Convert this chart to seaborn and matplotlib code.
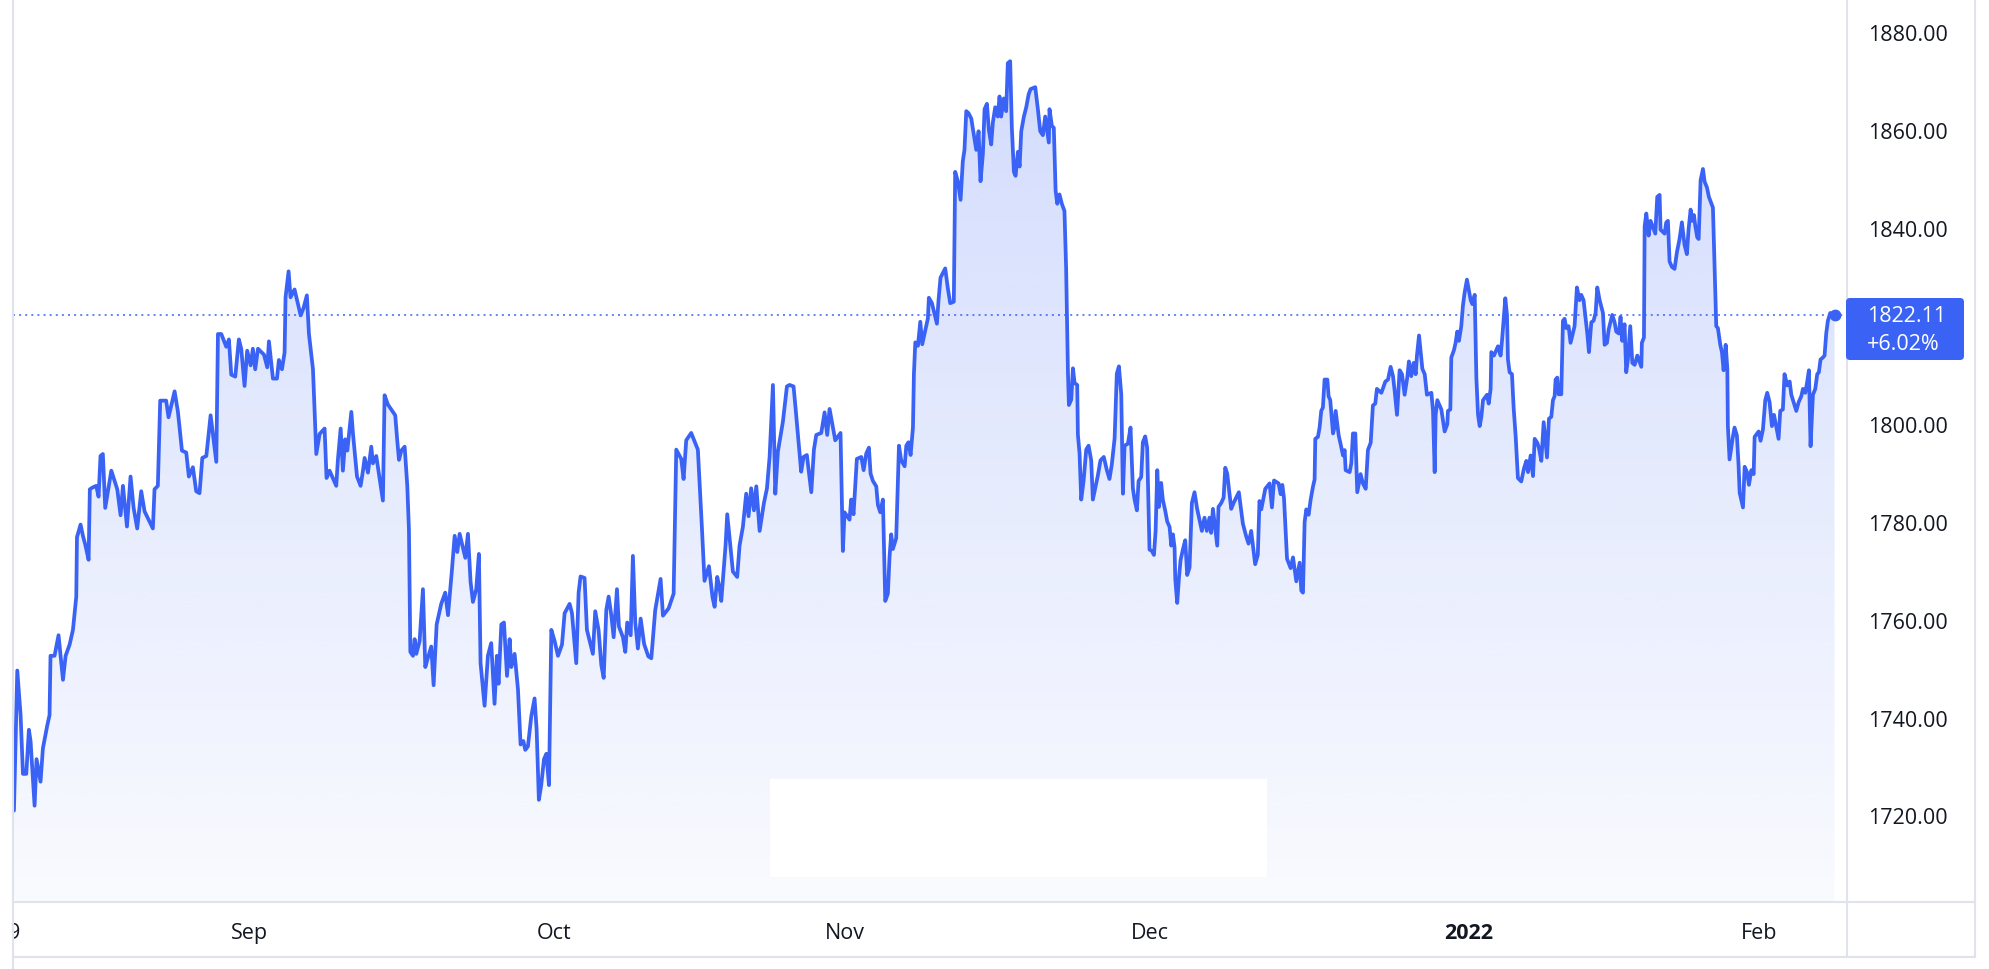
import numpy as np
import pandas as pd
import matplotlib
matplotlib.use("Agg")
import matplotlib.pyplot as plt
import seaborn as sns
from matplotlib.patches import Rectangle, FancyBboxPatch, PathPatch
from matplotlib.lines import Line2D
from matplotlib.transforms import IdentityTransform

# ---------------- data ----------------
# x: trading days since 2021-08-09 (weekends collapsed), y: gold price (USD)
trading_day = [
    0.00, 0.24, 0.48, 0.65, 0.89, 1.08, 1.20, 1.49, 1.63, 1.73, 1.92, 2.09, 2.40, 2.57, 2.64, 2.93,
    3.22, 3.54, 3.73, 4.02, 4.26, 4.50, 4.55, 4.81, 4.98, 5.15, 5.39, 5.48, 5.70, 5.94, 6.11, 6.25,
    6.42, 6.59, 7.03, 7.46, 7.70, 7.87, 8.16, 8.42, 8.64, 8.90, 9.19, 9.43, 10.03, 10.15, 10.39, 10.56,
    10.99, 11.16, 11.60, 11.84, 12.13, 12.44, 12.63, 12.92, 13.16, 13.40, 13.60, 13.89, 14.20, 14.61, 14.73, 14.97,
    15.33, 15.52, 15.69, 15.98, 16.24, 16.41, 16.65, 16.84, 17.09, 17.25, 17.42, 17.62, 18.05, 18.29, 18.41, 18.70,
    18.99, 19.13, 19.35, 19.54, 19.61, 19.83, 19.97, 20.26, 20.45, 20.70, 20.91, 21.15, 21.30, 21.59, 21.83, 22.07,
    22.43, 22.57, 22.79, 23.27, 23.39, 23.59, 23.75, 23.92, 24.07, 24.36, 24.48, 24.77, 25.03, 25.20, 25.32, 25.56,
    25.80, 25.92, 26.16, 26.64, 26.76, 27.00, 27.53, 27.68, 27.80, 27.97, 28.21, 28.40, 28.52, 28.62, 28.81, 28.93,
    29.05, 29.29, 29.53, 29.70, 29.89, 30.13, 30.30, 30.52, 30.85, 31.14, 31.34, 31.62, 31.82, 32.01, 32.18, 32.59,
    32.78, 32.97, 33.14, 33.38, 33.57, 33.69, 33.98, 34.22, 34.46, 34.70, 34.87, 34.99, 35.19, 35.38, 35.60, 35.79,
    35.91, 36.15, 36.39, 36.58, 36.78, 36.92, 37.11, 37.35, 37.59, 37.74, 37.90, 38.07, 38.27, 38.44, 38.63, 38.80,
    39.04, 39.28, 39.57, 39.76, 40.12, 40.29, 40.60, 40.77, 40.91, 41.20, 41.37, 41.80, 41.97, 42.21, 42.41, 42.58,
    42.77, 42.94, 43.13, 43.30, 43.54, 43.68, 43.97, 44.14, 44.28, 44.53, 44.69, 44.86, 45.05, 45.25, 45.50, 45.80,
    46.02, 46.30, 46.69, 46.86, 47.27, 47.63, 47.82, 48.18, 48.35, 48.54, 48.90, 49.38, 49.67, 49.86, 50.18, 50.44,
    50.59, 50.78, 50.95, 51.07, 51.38, 51.50, 51.91, 52.22, 52.39, 52.63, 52.87, 53.04, 53.23, 53.43, 53.60, 53.84,
    54.15, 54.37, 54.56, 54.80, 54.97, 55.16, 55.52, 55.81, 56.00, 56.29, 56.44, 56.84, 57.01, 57.25, 57.57, 57.76,
    57.93, 58.29, 58.53, 58.72, 58.89, 59.13, 59.30, 59.68, 59.85, 59.97, 60.33, 60.45, 60.62, 60.86, 61.18, 61.35,
    61.54, 61.73, 61.85, 62.02, 62.26, 62.38, 62.55, 62.74, 62.91, 63.10, 63.22, 63.34, 63.46, 63.70, 63.90, 64.06,
    64.31, 64.43, 64.59, 64.74, 64.91, 64.98, 65.08, 65.27, 65.44, 65.58, 65.99, 66.06, 66.28, 66.64, 66.76, 66.90,
    67.24, 67.43, 67.60, 67.86, 67.96, 68.15, 68.35, 68.51, 68.63, 68.76, 68.92, 69.12, 69.48, 69.65, 69.79, 69.96,
    70.08, 70.25, 70.39, 70.56, 70.68, 70.85, 71.04, 71.16, 71.28, 71.47, 71.64, 71.76, 71.93, 72.05, 72.20, 72.32,
    72.49, 72.61, 72.73, 72.92, 73.09, 73.26, 73.40, 73.74, 73.93, 74.10, 74.29, 74.46, 74.72, 74.77, 74.94, 75.08,
    75.21, 75.33, 75.49, 75.66, 75.85, 75.97, 76.10, 76.17, 76.34, 76.46, 76.58, 76.77, 76.82, 76.94, 77.06, 77.23,
    77.42, 77.59, 77.78, 77.90, 78.26, 78.45, 78.69, 78.91, 79.10, 79.27, 79.47, 79.63, 79.78, 79.95, 80.07, 80.19,
    80.43, 80.62, 80.79, 80.91, 81.08, 81.20, 81.39, 81.51, 81.68, 81.82, 81.99, 82.16, 82.31, 82.43, 82.55, 82.67,
    82.83, 82.95, 83.12, 83.27, 83.44, 83.56, 83.68, 83.80, 83.85, 83.99, 84.11, 84.23, 84.40, 84.57, 84.71, 84.88,
    85.05, 85.24, 85.43, 85.77, 85.96, 86.13, 86.32, 86.44, 86.57, 86.88, 86.97, 87.17, 87.34, 87.46, 87.60, 87.89,
    88.06, 88.44, 88.73, 88.97, 89.14, 89.33, 89.62, 89.81, 89.93, 90.06, 90.35, 90.66, 90.83, 90.98, 91.31, 91.46,
    91.58, 91.70, 91.92, 92.18, 92.35, 92.59, 92.83, 92.95, 93.07, 93.19, 93.31, 93.48, 93.62, 93.79, 93.91, 93.96,
    94.15, 94.27, 94.39, 94.51, 94.63, 94.83, 94.92, 95.04, 95.24, 95.31, 95.43, 95.65, 95.79, 95.96, 96.08, 96.15,
    96.44, 96.56, 96.68, 96.85, 96.99, 97.23, 97.40, 97.60, 97.76, 97.96, 98.12, 98.29, 98.41, 98.73, 99.02, 99.21,
    99.40, 99.57, 99.69, 99.86, 100.05, 100.22, 100.41, 100.60, 100.72, 100.89, 101.06, 101.21, 101.30, 101.45, 101.69, 101.86,
    102.02, 102.34, 102.46, 102.58, 102.65, 102.77, 103.06, 103.30, 103.49, 103.54, 103.71, 103.78, 103.97, 104.09, 104.21, 104.33,
    104.50, 104.62, 104.74, 104.91, 105.18, 105.30, 105.47, 105.59, 105.71, 105.83, 105.95, 106.07, 106.36, 106.48, 106.62, 106.67,
    106.86, 107.15, 107.34, 107.44, 107.56, 107.68, 107.80, 107.87, 107.99, 108.16, 108.28, 108.43, 108.59, 108.83, 109.03, 109.20,
    109.32, 109.51, 109.68, 109.80, 109.99, 110.11, 110.28, 110.45, 110.69, 110.83, 111.00, 111.12, 111.24, 111.31, 111.43, 111.53,
    111.72, 111.84, 111.96, 112.08, 112.25, 112.39, 112.68, 112.85, 113.04, 113.16, 113.33, 113.60, 113.72, 113.89, 114.05, 114.20,
    114.32, 114.49, 114.73, 114.85, 115.02, 115.14, 115.40, 115.57, 115.69, 115.88, 116.00, 116.12, 116.29, 116.41, 116.53, 116.70,
    116.85, 117.02, 117.21, 117.50, 117.54, 117.69, 117.74, 117.86, 118.03, 118.17, 118.51, 118.65, 118.82, 118.89, 119.18, 119.30,
    119.42, 119.54, 119.71, 119.90, 120.07, 120.26, 120.43, 120.62, 120.79, 120.91, 121.06, 121.18, 121.30, 121.40, 121.54, 121.64,
    121.78, 121.95, 122.07, 122.24, 122.38, 122.67, 122.79, 122.91, 123.03, 123.20, 123.32, 123.44, 123.59, 123.71, 123.75, 123.87,
    124.11, 124.23, 124.40, 124.52, 124.60, 124.84, 124.96, 125.13, 125.27, 125.44, 125.61, 125.68, 125.97, 126.11, 126.28, 126.45,
    126.59, 126.76, 126.93, 127.08, 127.41, 127.53, 127.72, 127.84, 128.04, 128.21, 128.33, 128.49, 128.69, 128.86, 129.05, 129.17,
    129.34, 129.48, 129.60, 129.72, 129.89, 130.06, 130.20, 130.32, 130.44, 130.61, 130.73, 130.85, 130.97, 131.14, 131.33, 131.45,
]
gold_price = [
    1721.0, 1749.6, 1740.5, 1728.5, 1728.5, 1737.5, 1735.2, 1722.0, 1731.5, 1729.9, 1726.9, 1733.7, 1738.3, 1740.5, 1752.6, 1752.6,
    1756.8, 1747.7, 1752.6, 1754.9, 1757.9, 1764.7, 1776.8, 1779.4, 1777.1, 1775.3, 1772.2, 1786.6, 1787.0, 1787.3, 1785.1, 1793.4,
    1793.8, 1782.8, 1790.4, 1786.6, 1781.3, 1787.3, 1779.0, 1789.2, 1782.8, 1778.6, 1786.2, 1782.1, 1778.6, 1786.6, 1787.3, 1804.7,
    1804.7, 1801.3, 1806.6, 1802.4, 1794.5, 1794.1, 1789.2, 1791.1, 1786.2, 1785.8, 1793.0, 1793.4, 1801.7, 1792.2, 1818.3, 1818.3,
    1815.7, 1817.2, 1810.0, 1809.6, 1817.2, 1815.3, 1807.7, 1814.9, 1811.9, 1815.3, 1811.1, 1815.3, 1814.1, 1811.5, 1816.8, 1809.2,
    1809.2, 1813.0, 1811.1, 1814.5, 1825.8, 1831.1, 1825.8, 1827.4, 1825.1, 1822.1, 1823.6, 1826.2, 1818.3, 1811.1, 1793.8, 1797.9,
    1799.0, 1788.9, 1790.4, 1787.3, 1792.6, 1799.0, 1790.4, 1796.8, 1794.5, 1802.4, 1797.9, 1789.2, 1787.3, 1790.4, 1793.0, 1790.0,
    1795.3, 1791.9, 1793.4, 1784.3, 1805.8, 1803.9, 1801.7, 1796.4, 1792.6, 1794.5, 1795.3, 1787.3, 1778.3, 1753.4, 1752.6, 1756.0,
    1753.0, 1755.6, 1766.2, 1750.3, 1752.2, 1754.5, 1746.6, 1759.0, 1763.2, 1765.5, 1760.9, 1770.0, 1777.1, 1773.8, 1777.5, 1772.6,
    1777.5, 1767.7, 1763.6, 1766.2, 1773.4, 1751.1, 1742.4, 1752.6, 1755.2, 1742.8, 1752.6, 1746.9, 1759.0, 1759.4, 1748.5, 1756.0,
    1750.3, 1753.0, 1745.8, 1734.5, 1735.2, 1733.4, 1734.1, 1740.2, 1743.9, 1737.5, 1723.2, 1726.2, 1731.5, 1732.6, 1726.2, 1757.9,
    1755.6, 1752.6, 1754.9, 1761.3, 1763.2, 1761.3, 1751.1, 1765.5, 1768.8, 1768.5, 1757.9, 1753.0, 1761.7, 1757.9, 1750.7, 1748.1,
    1762.0, 1764.7, 1760.9, 1756.4, 1766.2, 1758.6, 1756.4, 1753.4, 1759.4, 1756.8, 1773.0, 1759.4, 1754.1, 1760.2, 1755.0, 1752.5,
    1752.1, 1761.9, 1768.3, 1760.8, 1762.3, 1765.3, 1794.7, 1792.8, 1788.7, 1796.6, 1798.1, 1794.7, 1778.9, 1767.9, 1770.9, 1764.5,
    1762.6, 1768.7, 1766.4, 1763.8, 1775.1, 1781.5, 1769.8, 1768.7, 1775.1, 1778.9, 1785.7, 1781.1, 1786.8, 1782.3, 1787.2, 1778.1,
    1783.8, 1786.8, 1793.2, 1807.9, 1785.7, 1794.3, 1800.4, 1807.6, 1807.9, 1807.6, 1803.0, 1790.2, 1793.2, 1793.6, 1786.0, 1794.7,
    1797.7, 1798.1, 1802.3, 1797.7, 1803.0, 1799.2, 1796.6, 1798.1, 1774.0, 1781.9, 1780.4, 1784.5, 1781.5, 1792.8, 1793.2, 1790.5,
    1793.9, 1795.1, 1789.8, 1788.3, 1787.2, 1783.4, 1781.9, 1784.5, 1763.8, 1765.3, 1772.8, 1777.4, 1774.4, 1776.6, 1795.5, 1792.5,
    1791.3, 1795.5, 1796.2, 1793.6, 1799.2, 1810.2, 1816.6, 1815.9, 1820.8, 1816.2, 1821.5, 1825.7, 1824.6, 1820.4, 1825.3, 1829.8,
    1831.7, 1827.6, 1824.6, 1824.9, 1851.4, 1849.5, 1845.7, 1853.6, 1855.9, 1863.8, 1863.4, 1862.3, 1855.9, 1859.7, 1849.5, 1855.1,
    1864.2, 1865.3, 1860.0, 1857.0, 1861.5, 1864.6, 1862.7, 1866.8, 1862.7, 1866.4, 1863.8, 1873.6, 1874.0, 1860.4, 1851.4, 1850.6,
    1855.5, 1852.5, 1859.7, 1862.7, 1864.6, 1867.2, 1868.3, 1868.7, 1864.2, 1859.7, 1858.9, 1862.7, 1857.4, 1864.2, 1860.8, 1860.4,
    1847.6, 1844.9, 1846.8, 1844.9, 1843.4, 1831.7, 1810.6, 1803.8, 1804.9, 1811.3, 1808.3, 1807.9, 1797.7, 1793.9, 1784.5, 1788.3,
    1794.7, 1795.5, 1792.5, 1784.5, 1789.4, 1792.5, 1793.2, 1790.5, 1788.7, 1791.7, 1797.0, 1810.2, 1811.7, 1806.0, 1785.7, 1795.5,
    1795.9, 1799.2, 1786.8, 1784.5, 1782.3, 1788.3, 1789.1, 1796.2, 1797.4, 1795.1, 1774.3, 1774.0, 1773.2, 1778.1, 1790.5, 1783.0,
    1787.9, 1784.5, 1782.3, 1780.0, 1778.9, 1775.1, 1777.4, 1774.7, 1768.3, 1763.4, 1768.3, 1772.1, 1774.3, 1776.2, 1769.1, 1770.6,
    1783.8, 1786.0, 1782.6, 1778.1, 1780.8, 1778.1, 1780.8, 1777.7, 1782.6, 1775.1, 1783.0, 1783.8, 1784.9, 1791.0, 1789.8, 1782.6,
    1783.8, 1786.0, 1779.6, 1777.0, 1775.5, 1778.1, 1771.3, 1773.2, 1784.2, 1782.5, 1786.7, 1787.8, 1782.9, 1788.4, 1787.8, 1785.6,
    1787.5, 1784.8, 1772.4, 1770.5, 1772.7, 1767.8, 1771.6, 1765.9, 1765.5, 1779.9, 1782.5, 1781.4, 1784.4, 1787.1, 1788.6, 1796.9,
    1797.3, 1799.2, 1802.6, 1803.3, 1809.0, 1809.0, 1805.6, 1804.8, 1798.0, 1798.8, 1802.6, 1797.6, 1795.8, 1793.5, 1794.6, 1790.5,
    1790.1, 1791.9, 1798.0, 1798.0, 1786.0, 1789.7, 1787.8, 1786.7, 1794.6, 1796.1, 1803.7, 1804.1, 1807.1, 1806.3, 1808.6, 1809.0,
    1811.6, 1809.7, 1806.7, 1801.8, 1810.9, 1810.1, 1805.9, 1809.4, 1812.7, 1809.7, 1812.4, 1810.1, 1813.9, 1818.0, 1811.2, 1810.1,
    1805.9, 1806.3, 1802.6, 1790.1, 1801.8, 1804.8, 1802.9, 1798.4, 1799.9, 1802.6, 1802.9, 1813.5, 1815.0, 1816.5, 1818.8, 1816.9,
    1819.9, 1824.1, 1826.7, 1829.4, 1825.2, 1824.4, 1826.3, 1809.4, 1801.8, 1799.5, 1801.4, 1804.8, 1805.9, 1804.1, 1807.1, 1814.6,
    1813.9, 1815.8, 1813.9, 1816.9, 1821.4, 1825.6, 1822.2, 1813.1, 1810.5, 1810.1, 1803.3, 1797.3, 1788.9, 1788.2, 1790.9, 1792.4,
    1790.1, 1793.5, 1789.3, 1796.9, 1796.1, 1795.0, 1792.4, 1800.3, 1793.1, 1801.0, 1801.4, 1804.8, 1805.6, 1809.0, 1809.4, 1806.0,
    1806.0, 1821.0, 1821.4, 1819.5, 1819.9, 1816.5, 1819.9, 1827.8, 1825.2, 1826.3, 1825.2, 1818.4, 1814.6, 1820.7, 1821.0, 1822.6,
    1827.8, 1825.2, 1822.6, 1816.1, 1816.5, 1819.2, 1822.2, 1820.7, 1818.8, 1818.4, 1821.8, 1816.9, 1820.3, 1810.5, 1813.1, 1819.9,
    1812.4, 1812.0, 1813.9, 1811.6, 1816.5, 1817.6, 1840.3, 1842.9, 1838.4, 1841.4, 1838.8, 1846.3, 1846.7, 1839.6, 1838.8, 1841.1,
    1841.4, 1833.1, 1832.0, 1831.6, 1835.0, 1837.7, 1841.1, 1836.5, 1834.6, 1839.6, 1843.7, 1841.4, 1842.6, 1840.3, 1838.0, 1837.7,
    1849.7, 1852.0, 1849.4, 1848.2, 1846.3, 1844.1, 1832.0, 1819.9, 1819.5, 1816.1, 1814.6, 1810.9, 1816.1, 1811.2, 1799.5, 1792.7,
    1797.3, 1799.2, 1797.6, 1791.6, 1785.9, 1782.9, 1791.2, 1790.1, 1787.5, 1790.5, 1789.7, 1797.3, 1798.4, 1796.5, 1798.8, 1804.8,
    1806.3, 1804.4, 1799.5, 1801.8, 1796.9, 1802.6, 1802.9, 1810.1, 1807.8, 1808.6, 1805.9, 1804.4, 1802.6, 1804.4, 1805.6, 1807.1,
    1806.3, 1808.6, 1810.9, 1795.4, 1805.9, 1807.1, 1810.1, 1810.5, 1813.1, 1813.5, 1813.9, 1818.4, 1821.0, 1822.6, 1822.2, 1822.11,
]
start_date = "2021-08-09"
tick_dates = ["2021-08-09", "2021-09-01", "2021-10-01", "2021-11-01", "2021-12-01", "2022-01-03", "2022-02-01"]
tick_labels = ["9", "Sep", "Oct", "Nov", "Dec", "2022", "Feb"]
# 1820.00 is hidden behind the last-price label in the original
price_ticks = [1720, 1740, 1760, 1780, 1800, 1840, 1860, 1880]
change_pct = 6.02

# ---------------- style ----------------
LINE = "#3a63f5"
BORDER = "#e0e3eb"
TXT = "#131722"
W, H = 1990, 970
PX_PER_DAY = 13.85

sns.set_theme(style="white")
plt.rcParams["font.family"] = ["Open Sans", "DejaVu Sans"]

fig = plt.figure(figsize=(W / 100, H / 100), dpi=100)
fig.patch.set_facecolor("white")
ax_left, ax_right, ax_bottom = 12.7, 1846.7, 902.7
ax = fig.add_axes([ax_left / W, 1 - ax_bottom / H, (ax_right - ax_left) / W, ax_bottom / H])
ax.set_facecolor("white")

df = pd.DataFrame({"day": trading_day, "price": gold_price})
ylo, yhi = 1702.4, 1886.7
xlo = -0.09
xhi = xlo + (ax_right - ax_left) / PX_PER_DAY

# gradient area under the line
fill = ax.fill_between(df["day"], df["price"], ylo, facecolor="none", edgecolor="none")
clip = PathPatch(fill.get_paths()[0], transform=ax.transData, facecolor="none", edgecolor="none")
ax.add_patch(clip)
rgb = matplotlib.colors.to_rgb(LINE)
grad = np.zeros((256, 1, 4))
grad[..., :3] = rgb
grad[:, 0, 3] = np.linspace(0.24, 0.03, 256)
im = ax.imshow(grad, extent=[xlo, xhi, ylo, yhi], aspect="auto", origin="upper",
               interpolation="bilinear", zorder=1)
im.set_clip_path(clip)

# last-price dotted line
ax.axhline(df["price"].iloc[-1], color=LINE, lw=1.1, ls=(0, (1.3, 2.7)), zorder=2)

sns.lineplot(data=df, x="day", y="price", ax=ax, color=LINE, lw=2.7,
             estimator=None, sort=False, zorder=3)
ax.plot([df["day"].iloc[-1]], [df["price"].iloc[-1]], "o", color=LINE, ms=7.5, zorder=4)

ax.set_xlim(xlo, xhi)
ax.set_ylim(ylo, yhi)
ax.set_xlabel("")
ax.set_ylabel("")
for s in ax.spines.values():
    s.set_visible(False)
ax.grid(False)

tick_pos = np.busday_count(start_date, tick_dates)
ax.set_xticks(tick_pos, tick_labels)
ax.tick_params(axis="x", length=0, pad=14.5, labelsize=15.5, labelcolor=TXT)
for lbl in ax.get_xticklabels():
    if lbl.get_text() == "2022":
        lbl.set_fontweight("bold")

ax.yaxis.tick_right()
ax.set_yticks(price_ticks, [f"{v:.2f}" for v in price_ticks])
ax.tick_params(axis="y", length=0, pad=15.3, labelsize=15.5, labelcolor=TXT)

# ---------------- figure-level decorations (pixel coords) ----------------
ID = IdentityTransform()

def fy(y):
    return H - y

# mask left of the chart (clips the first date label like the original)
fig.add_artist(Rectangle((0, 0), ax_left - 1, H, transform=ID, facecolor="white",
                         edgecolor="none", zorder=5))
# blank box over the bottom-middle of the area
fig.add_artist(Rectangle((770, fy(878)), 497, 98, transform=ID, facecolor="white",
                         edgecolor="none", zorder=2))

def hline(y, x0, x1):
    fig.add_artist(Line2D([x0, x1], [fy(y), fy(y)], transform=ID, color=BORDER, lw=1.5, zorder=6))

def vline(x, y0, y1):
    fig.add_artist(Line2D([x, x], [fy(y0), fy(y1)], transform=ID, color=BORDER, lw=1.5, zorder=6))

hline(ax_bottom, ax_left, 1975)
hline(958, ax_left, 1975)
vline(ax_left, 0, H)
vline(ax_right, 0, 958)
vline(1975, 0, 958)

# last price label
fig.add_artist(FancyBboxPatch((1846, fy(361)), 118, 62, boxstyle="round,pad=0,rounding_size=4",
                              transform=ID, facecolor=LINE, edgecolor="none", zorder=7))
fig.text(1867, fy(317), f"{df['price'].iloc[-1]:.2f}", transform=ID, color="white",
         fontsize=15.5, ha="left", va="center", zorder=8)
fig.text(1867, fy(345), f"+{change_pct:.2f}%", transform=ID, color="white",
         fontsize=15.5, ha="left", va="center", zorder=8)

fig.savefig("out.png", dpi=100, facecolor="white")
